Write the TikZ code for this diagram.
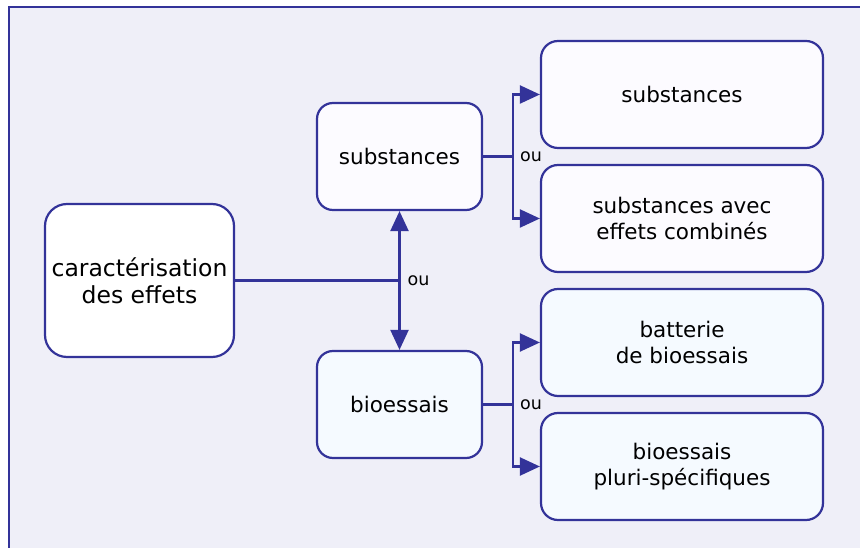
\documentclass[tikz,border=0pt]{standalone}
\usepackage{fontspec}
\setmainfont{DejaVu Sans}
\usetikzlibrary{positioning,arrows.meta}

\definecolor{trait}{HTML}{333399}
\definecolor{fond}{HTML}{EFEFF8}
\definecolor{boitesub}{HTML}{FCFBFF}
\definecolor{boitebio}{HTML}{F5FAFF}

\begin{document}
\begin{tikzpicture}[on grid, line width=2.2pt, >={Triangle[length=20pt,width=18pt]},
		boite/.style={draw=trait, rounded corners=17pt, align=center, inner sep=0pt,
			font=\fontsize{21.5}{26}\selectfont, minimum height=107pt},
		large/.style={boite, minimum width=282pt},
		milieu/.style={boite, minimum width=165pt, rounded corners=16pt},
		ou/.style={inner sep=0pt, anchor=west, font=\fontsize{17.5}{19}\selectfont}]
		% cadre
		\useasboundingbox (-139.5pt,280.5pt) rectangle (720.5pt,-267.5pt);
		\draw[trait, fill=fond, line width=1.8pt]	(-130.5pt,273.5pt) rectangle (740pt,-290pt);
		
		\node[boite, fill=white, minimum width=189pt, minimum height=153pt, rounded corners=22pt,
			font=\fontsize{23.5}{27}\selectfont]	(carac)	at (0,0)	{caract\'erisation\\des effets};
		
		\node[milieu, fill=boitesub]	(subst)	[above right=124pt and 260pt of carac]	{substances};
		\node[milieu, fill=boitebio]	(bio)	[below=248pt of subst]					{bioessais};
		
		\node[large, fill=boitesub]		(sub_a)	[above right=62pt and 282.5pt of subst]	{substances};
		\node[large, fill=boitesub]		(sub_b)	[below=124pt of sub_a]					{substances avec\\effets combin\'es};
		\node[large, fill=boitebio]		(batt)	[above right=62pt and 282.5pt of bio]	{batterie\\ de bioessais};
		\node[large, fill=boitebio]		(pluri)	[below=124pt of batt]					{bioessais\\ pluri-sp\'ecifiques};
		
		% embranchements
		\coordinate (j_0) at (subst |- carac.east);
		\coordinate (j_1) at ([xshift=30pt]subst.east);
		\coordinate (j_2) at ([xshift=30pt]bio.east);
		
		\node[ou]	(ou_0)	at ([xshift=7pt]j_0)	{ou};
		\node[ou]	(ou_1)	at ([xshift=6pt]j_1)	{ou};
		\node[ou]	(ou_2)	at ([xshift=6pt]j_2)	{ou};
		
		\draw[trait]	(carac.east) -- (j_0);
		\draw[trait, <->]	(subst) -- (bio);
		\draw[trait]	(subst.east) -- (j_1);
		\draw[trait]	(bio.east) -- (j_2);
		\draw[trait, ->]	(j_1) |- (sub_a.west);
		\draw[trait, ->]	(j_1) |- (sub_b.west);
		\draw[trait, ->]	(j_2) |- (batt.west);
		\draw[trait, ->]	(j_2) |- (pluri.west);
	\end{tikzpicture}
\end{document}
